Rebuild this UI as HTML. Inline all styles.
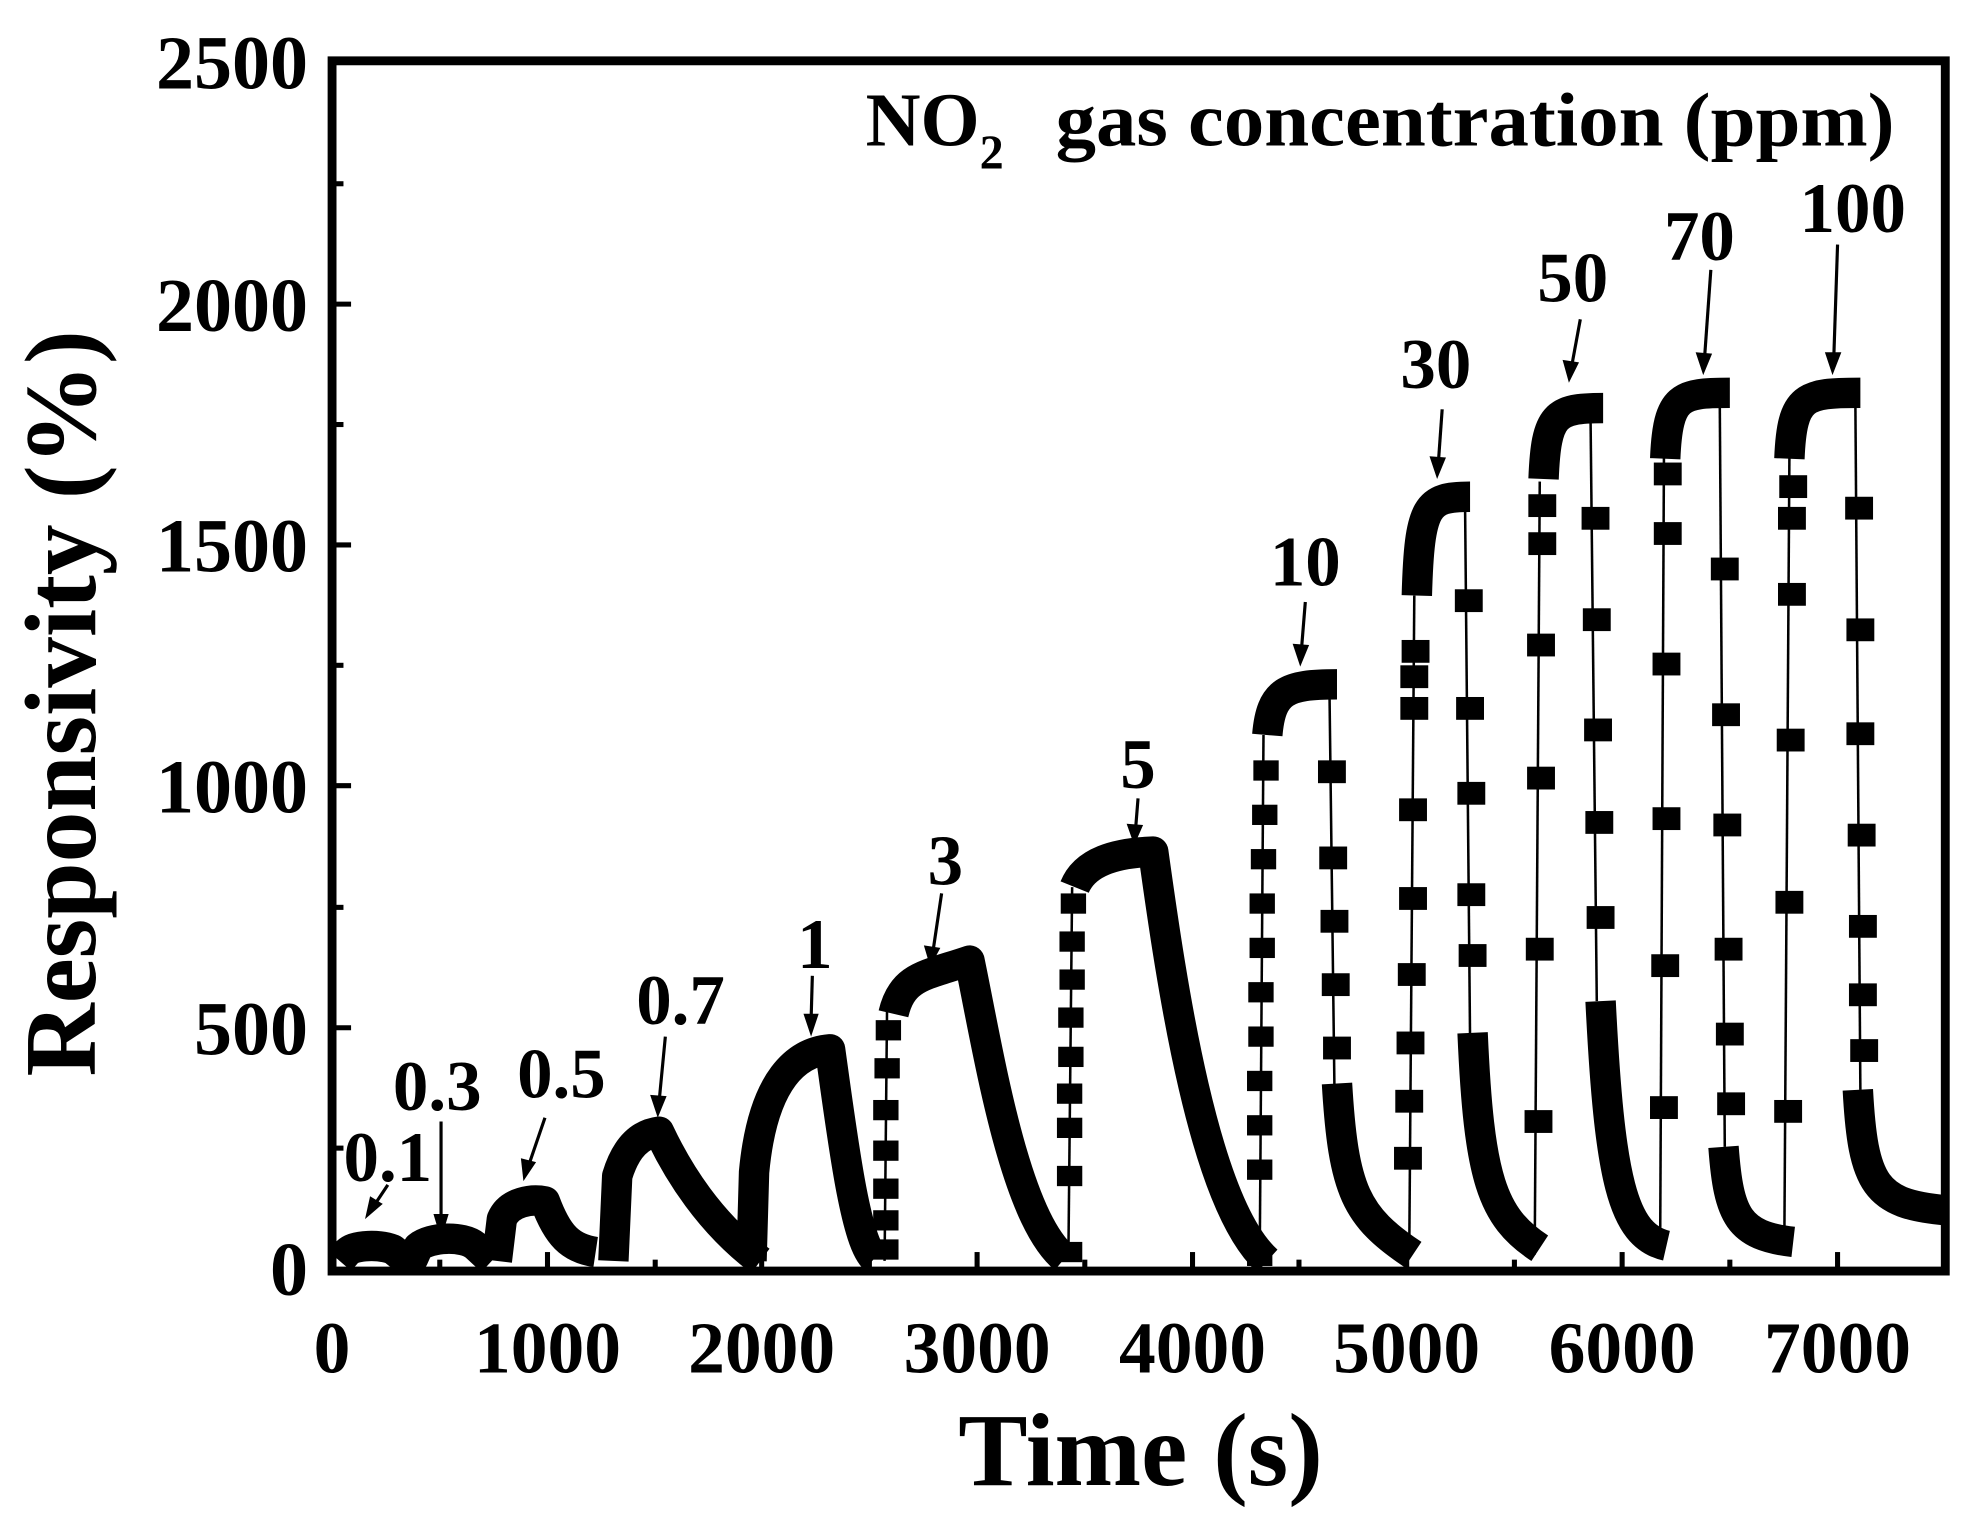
<!DOCTYPE html>
<html><head><meta charset="utf-8"><style>
html,body{margin:0;padding:0;background:#fff;}
svg{display:block}
text{font-family:"Liberation Serif",serif;font-weight:bold;fill:#000}
</style></head><body>
<svg width="1977" height="1524" viewBox="0 0 1560 1202.6" xmlns="http://www.w3.org/2000/svg">
<rect x="262" y="48" width="1273" height="955" fill="none" stroke="#000" stroke-width="7"/>
<g stroke="#000" stroke-width="4">
<line x1="432" y1="1003" x2="432" y2="988"/><line x1="601" y1="1003" x2="601" y2="988"/><line x1="771" y1="1003" x2="771" y2="988"/><line x1="941" y1="1003" x2="941" y2="988"/><line x1="1110" y1="1003" x2="1110" y2="988"/><line x1="1280" y1="1003" x2="1280" y2="988"/><line x1="1450" y1="1003" x2="1450" y2="988"/>
<line x1="347" y1="1003" x2="347" y2="994"/><line x1="517" y1="1003" x2="517" y2="994"/><line x1="686" y1="1003" x2="686" y2="994"/><line x1="856" y1="1003" x2="856" y2="994"/><line x1="1025" y1="1003" x2="1025" y2="994"/><line x1="1195" y1="1003" x2="1195" y2="994"/><line x1="1365" y1="1003" x2="1365" y2="994"/>
<line x1="262" y1="811" x2="277" y2="811"/><line x1="262" y1="620" x2="277" y2="620"/><line x1="262" y1="430" x2="277" y2="430"/><line x1="262" y1="240" x2="277" y2="240"/>
<line x1="262" y1="906" x2="271" y2="906"/><line x1="262" y1="716" x2="271" y2="716"/><line x1="262" y1="525" x2="271" y2="525"/><line x1="262" y1="335" x2="271" y2="335"/><line x1="262" y1="145" x2="271" y2="145"/>
</g>
<g font-size="60" text-anchor="end">
<text x="243" y="1022">0</text><text x="243" y="832">500</text><text x="243" y="641">1000</text><text x="243" y="451">1500</text><text x="243" y="261">2000</text><text x="243" y="70">2500</text>
</g>
<g font-size="58" text-anchor="middle">
<text x="262" y="1083">0</text><text x="432" y="1083">1000</text><text x="601" y="1083">2000</text><text x="771" y="1083">3000</text><text x="941" y="1083">4000</text><text x="1110" y="1083">5000</text><text x="1280" y="1083">6000</text><text x="1450" y="1083">7000</text>
</g>
<text x="900" y="1172" font-size="82" text-anchor="middle">Time (s)</text>
<text transform="translate(75,555) rotate(-90)" font-size="80" text-anchor="middle">Responsivity (%)</text>
<text x="683" y="115" font-size="60">NO<tspan font-size="38" dy="18">2</tspan></text>
<text x="833" y="115" font-size="60" textLength="662" lengthAdjust="spacingAndGlyphs">gas concentration (ppm)</text>
<g fill="none" stroke="#000" stroke-width="24" stroke-linejoin="round">
<path d="M268,995 L274,988 C280,982 300,982 310,986 L320,994 L326,993 L330,984 C340,976 365,975 375,983 L388,995"/>
<path d="M392,995 L396,962 C402,948 420,946 430,948 C440,975 450,985 470,988"/>
<path d="M484,995 L487,928 C494,905 505,895 520,893 C535,925 560,965 600,995"/>
<path d="M593,995 L595,925 C602,850 630,830 655,828 C665,900 675,980 690,993"/>
<path d="M705,800 C712,770 730,770 765,758 C780,830 800,960 840,993"/>
<path d="M848,700 C856,680 880,673 910,672 C925,780 950,950 1000,995"/>
<path d="M1000,580 C1003,545 1015,540 1055,540"/>
<path d="M1055,855 C1060,940 1070,960 1115,990"/>
<path d="M1118,470 C1120,398 1126,392 1160,392"/>
<path d="M1162,815 C1167,930 1177,960 1215,985"/>
<path d="M1218,378 C1220,327 1227,322 1265,322"/>
<path d="M1263,790 C1270,930 1280,975 1315,983"/>
<path d="M1314,362 C1316,312 1326,310 1365,310"/>
<path d="M1360,905 C1364,960 1372,975 1415,980"/>
<path d="M1412,362 C1414,312 1424,310 1468,310"/>
<path d="M1466,860 C1470,935 1480,950 1535,955"/>
</g>
<g stroke="#000" stroke-width="2">
<line x1="698" y1="995" x2="700" y2="790"/><line x1="843" y1="995" x2="846" y2="700"/>
<line x1="994" y1="995" x2="997" y2="580"/><line x1="1049" y1="540" x2="1053" y2="860"/>
<line x1="1112" y1="990" x2="1116" y2="470"/><line x1="1156" y1="392" x2="1160" y2="820"/>
<line x1="1211" y1="990" x2="1215" y2="380"/><line x1="1255" y1="322" x2="1260" y2="790"/>
<line x1="1310" y1="985" x2="1313" y2="360"/><line x1="1357" y1="310" x2="1361" y2="905"/>
<line x1="1408" y1="980" x2="1412" y2="360"/><line x1="1464" y1="310" x2="1468" y2="860"/>
</g>
<g fill="#000">
<rect x="689" y="978" width="20" height="16"/><rect x="689" y="955" width="20" height="16"/><rect x="689" y="930" width="20" height="16"/><rect x="689" y="900" width="20" height="16"/><rect x="689" y="868" width="20" height="16"/><rect x="690" y="835" width="20" height="16"/><rect x="691" y="805" width="20" height="16"/>
<rect x="834" y="980" width="20" height="16"/><rect x="834" y="920" width="20" height="16"/><rect x="834" y="882" width="20" height="16"/><rect x="834" y="855" width="20" height="16"/><rect x="835" y="826" width="20" height="16"/><rect x="835" y="795" width="20" height="16"/><rect x="836" y="765" width="20" height="16"/><rect x="836" y="735" width="20" height="16"/><rect x="837" y="705" width="20" height="16"/>
<rect x="984" y="985" width="20" height="14"/><rect x="984" y="915" width="20" height="16"/><rect x="984" y="880" width="20" height="16"/><rect x="984" y="845" width="20" height="16"/><rect x="985" y="810" width="20" height="16"/><rect x="985" y="775" width="20" height="16"/><rect x="986" y="740" width="20" height="16"/><rect x="986" y="705" width="20" height="16"/><rect x="987" y="670" width="20" height="16"/><rect x="988" y="635" width="20" height="16"/><rect x="989" y="600" width="20" height="16"/>
<rect x="1040" y="600" width="22" height="18"/><rect x="1041" y="668" width="22" height="18"/><rect x="1042" y="718" width="22" height="18"/><rect x="1043" y="768" width="22" height="18"/><rect x="1044" y="818" width="22" height="18"/>
<rect x="1100" y="905" width="22" height="18"/><rect x="1101" y="860" width="22" height="18"/><rect x="1102" y="814" width="22" height="18"/><rect x="1103" y="760" width="22" height="18"/><rect x="1104" y="700" width="22" height="18"/><rect x="1104" y="630" width="22" height="18"/><rect x="1105" y="550" width="22" height="18"/><rect x="1105" y="525" width="22" height="18"/><rect x="1106" y="505" width="22" height="18"/>
<rect x="1148" y="465" width="22" height="18"/><rect x="1149" y="550" width="22" height="18"/><rect x="1150" y="617" width="22" height="18"/><rect x="1150" y="697" width="22" height="18"/><rect x="1151" y="745" width="22" height="18"/>
<rect x="1203" y="876" width="22" height="18"/><rect x="1204" y="740" width="22" height="18"/><rect x="1205" y="605" width="22" height="18"/><rect x="1205" y="500" width="22" height="18"/><rect x="1206" y="420" width="22" height="18"/><rect x="1206" y="390" width="22" height="18"/>
<rect x="1248" y="400" width="22" height="18"/><rect x="1249" y="480" width="22" height="18"/><rect x="1250" y="567" width="22" height="18"/><rect x="1251" y="640" width="22" height="18"/><rect x="1252" y="715" width="22" height="18"/>
<rect x="1302" y="865" width="22" height="18"/><rect x="1303" y="753" width="22" height="18"/><rect x="1304" y="637" width="22" height="18"/><rect x="1304" y="515" width="22" height="18"/><rect x="1305" y="412" width="22" height="18"/><rect x="1305" y="365" width="22" height="18"/>
<rect x="1350" y="440" width="22" height="18"/><rect x="1351" y="555" width="22" height="18"/><rect x="1352" y="642" width="22" height="18"/><rect x="1353" y="740" width="22" height="18"/><rect x="1354" y="807" width="22" height="18"/><rect x="1355" y="862" width="22" height="18"/>
<rect x="1400" y="868" width="22" height="18"/><rect x="1401" y="703" width="22" height="18"/><rect x="1402" y="575" width="22" height="18"/><rect x="1403" y="460" width="22" height="18"/><rect x="1403" y="400" width="22" height="18"/><rect x="1404" y="375" width="22" height="18"/>
<rect x="1456" y="392" width="22" height="18"/><rect x="1457" y="488" width="22" height="18"/><rect x="1457" y="570" width="22" height="18"/><rect x="1458" y="650" width="22" height="18"/><rect x="1459" y="722" width="22" height="18"/><rect x="1459" y="776" width="22" height="18"/><rect x="1460" y="820" width="22" height="18"/>
</g>
<g font-size="56" text-anchor="middle">
<text x="306" y="932">0.1</text><text x="345" y="876">0.3</text><text x="443" y="866">0.5</text><text x="537" y="808">0.7</text><text x="643" y="764">1</text><text x="746" y="698">3</text><text x="898" y="622">5</text><text x="1030" y="462">10</text><text x="1133" y="306">30</text><text x="1241" y="238">50</text><text x="1341" y="205">70</text><text x="1462" y="183">100</text>
</g>
<g stroke="#000" stroke-width="2.5">
<line x1="306" y1="935" x2="296" y2="950"/><line x1="348" y1="885" x2="348" y2="965"/><line x1="430" y1="882" x2="417" y2="920"/><line x1="525" y1="818" x2="520" y2="870"/><line x1="641" y1="770" x2="640" y2="805"/><line x1="743" y1="705" x2="736" y2="752"/><line x1="898" y1="630" x2="896" y2="655"/><line x1="1030" y1="475" x2="1027" y2="512"/><line x1="1138" y1="323" x2="1135" y2="365"/><line x1="1247" y1="252" x2="1240" y2="290"/><line x1="1350" y1="213" x2="1345" y2="283"/><line x1="1450" y1="193" x2="1447" y2="283"/>
</g>
<g fill="#000">
<polygon points="288,962 292,944 302,950"/>
<polygon points="348,978 342,958 354,958"/>
<polygon points="413,932 411,914 423,917"/>
<polygon points="519,882 513,864 526,865"/>
<polygon points="640,818 634,800 646,800"/>
<polygon points="734,763 729,746 742,748"/>
<polygon points="895,667 889,650 902,651"/>
<polygon points="1026,526 1020,508 1033,509"/>
<polygon points="1134,378 1128,360 1141,361"/>
<polygon points="1238,302 1233,284 1246,286"/>
<polygon points="1344,296 1338,278 1351,279"/>
<polygon points="1446,296 1440,278 1453,278"/>
</g>
</svg>
</body></html>
